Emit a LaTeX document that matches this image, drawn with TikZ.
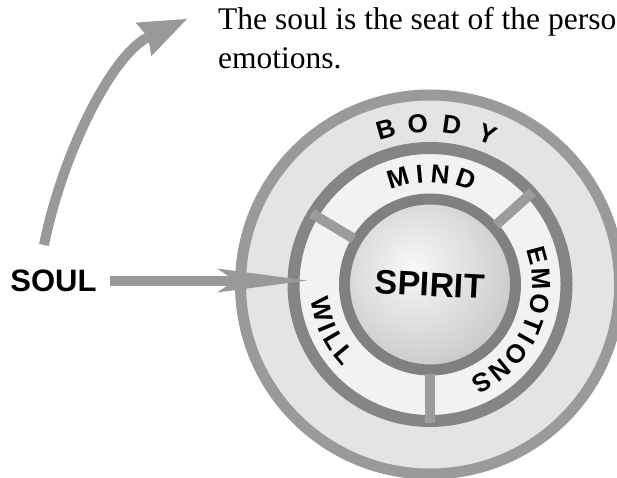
\documentclass[tikz,border=0pt]{standalone}
\usepackage{fontspec}
\setmainfont{Liberation Serif}
\newfontfamily\labelfont{Liberation Sans}
\usetikzlibrary{arrows.meta}
\definecolor{bodygray}{HTML}{9A9A9A}
\definecolor{bodyfill}{HTML}{E4E4E4}
\definecolor{soulgray}{HTML}{858585}
\definecolor{soulfill}{HTML}{F2F2F2}
\definecolor{spiritgray}{HTML}{808080}
\definecolor{spokegray}{HTML}{9C9C9C}
\definecolor{arrowgray}{HTML}{999999}
\pgfdeclareradialshading{spiritball}{\pgfpoint{-5bp}{5bp}}{color(0bp)=(white!97!black); color(18bp)=(white!86!black); color(36bp)=(white!74!black); color(48bp)=(white!65!black); color(80bp)=(white!62!black)}
\begin{document}
\begin{tikzpicture}[x=1pt,y=1pt,
    ring/.style={circle,inner sep=0pt},
    ringletter/.style={font=\labelfont\bfseries\fontsize{26}{26}\selectfont,inner sep=0pt},
    spoke/.style={draw=spokegray,line width=10pt},
    soularrow/.style={draw=arrowgray,line width=10pt,
        -{Stealth[length=90pt,width=24pt,inset=18pt,line width=0pt]}},
    arcarrow/.style={draw=arrowgray,line width=10pt,
        -{Stealth[length=48pt,width=37pt,inset=5pt,line width=0pt]}}]
    \useasboundingbox (0,0) rectangle (617,477);
    \clip (0,0) rectangle (617,477);
    \node[ring,minimum size=379pt,line width=11pt,draw=bodygray,fill=bodyfill] (body) at (430,192.5) {};
    \node[ring,minimum size=273pt,line width=12pt,draw=soulgray,fill=soulfill] (soulring) at (body.center) {};
    \node[ring,minimum size=171pt,line width=11pt,draw=spiritgray,shade,shading=spiritball,rotate=-3,
        font=\labelfont\bfseries\fontsize{34}{34}\selectfont] (spirit) at (body.center) {SPIRIT};
    \foreach \ang in {149,42,270}
        \draw[spoke] ([shift={(\ang:89)}]body.center) -- ([shift={(\ang:138)}]body.center);
    \foreach \ch/\ang [count=\i] in {B/106,O/94.4,D/82.2,Y/69}
        \node[ringletter,rotate=\ang-90] (body-\i) at ([shift={(\ang:161)}]body.center) {\ch};
    \foreach \ch/\ang [count=\i] in {M/106.8,I/95.4,N/84.7,D/71.2}
        \node[ringletter,rotate=\ang-90] (mind-\i) at ([shift={(\ang:111)}]body.center) {\ch};
    \foreach \ch/\ang [count=\i] in {E/15,M/2.9,O/-9.9,T/-21.3,I/-29.5,O/-38.7,N/-50.8,S/-62.1}
        \node[ringletter,rotate=\ang-90] (emotions-\i) at ([shift={(\ang:111)}]body.center) {\ch};
    \foreach \ch/\ang [count=\i] in {W/193,I/202.5,L/210.5,L/219.5}
        \node[ringletter,rotate=\ang+90] (will-\i) at ([shift={(\ang:111)}]body.center) {\ch};
    \node[font=\labelfont\bfseries\fontsize{31}{31}\selectfont,inner sep=0pt] (soul) at (53.5,196.5) {SOUL};
    \coordinate (willtip) at (307,196.5);
    \draw[soularrow] ([xshift=13pt]soul.east) -- (willtip);
    \node[anchor=north west,inner sep=0pt,align=left,font=\fontsize{31.5}{39}\selectfont] (note) at (218,470)
        {The soul is the seat of the person\\emotions.};
    \coordinate (arcstart) at (44,232);
    \coordinate (arctip) at (187,458);
    \draw[arcarrow] (arcstart) .. controls (64,330) and (114.5,424) .. (arctip);
\end{tikzpicture}
\end{document}
